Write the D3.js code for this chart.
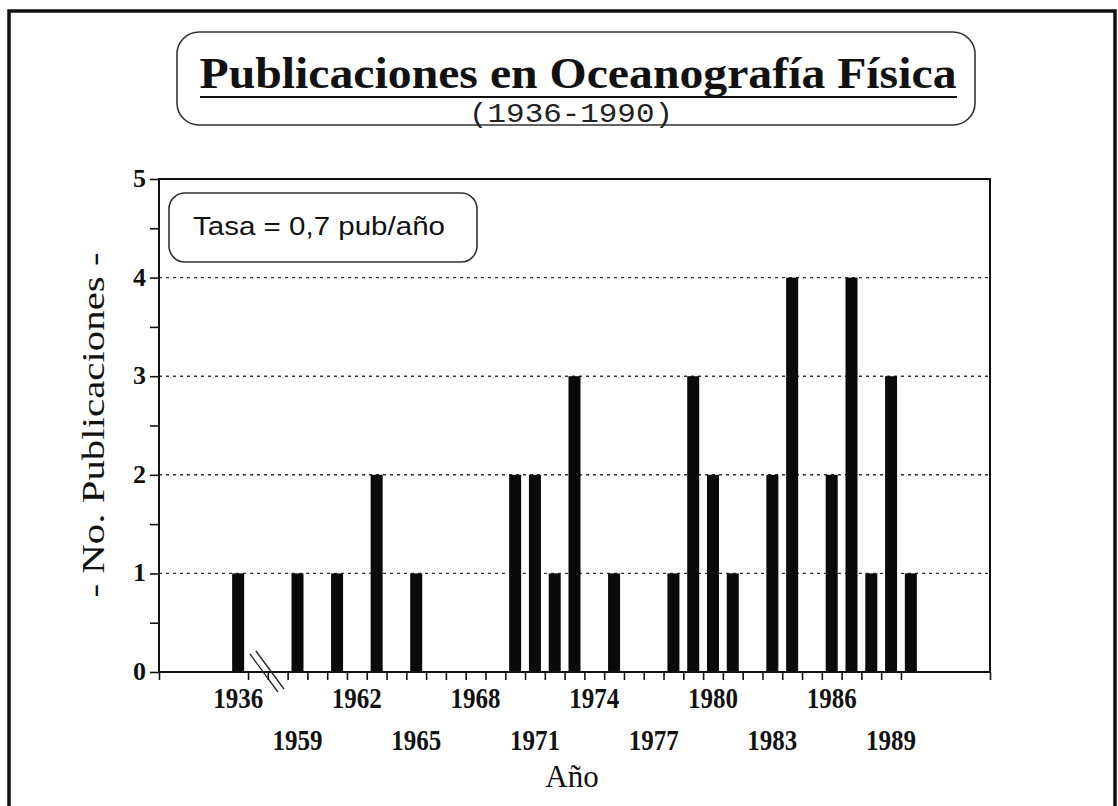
<!DOCTYPE html>
<html>
<head>
<meta charset="utf-8">
<script src="https://cdn.jsdelivr.net/npm/d3@7"></script>
<style>
  html, body { margin: 0; padding: 0; background: #fff; }
  svg { display: block; }
</style>
</head>
<body>
<div id="chart"></div>
<script>
// ---- data ----
const years  = [1936, 1959, 1961, 1963, 1965, 1970, 1971, 1972, 1973, 1975, 1978, 1979, 1980, 1981, 1983, 1984, 1986, 1987, 1988, 1989, 1990];
const counts = [1,    1,    1,    2,    1,    2,    2,    1,    3,    1,    1,    3,    2,    1,    2,    4,    2,    4,    1,    3,    1];
const tickLabelsRow1 = [1936, 1962, 1968, 1974, 1980, 1986];
const tickLabelsRow2 = [1959, 1965, 1971, 1977, 1983, 1989];
const yTicks = [0, 1, 2, 3, 4, 5];
const title = "Publicaciones en Oceanografía Física";
const subtitle = "(1936-1990)";
const rateLabel = "Tasa = 0,7 pub/año";
const yTitle = "- No. Publicaciones -";
const xTitle = "Año";

// axis break: 1936 sits alone, then two empty slots, then 1959 onward
const slot = y => (y === 1936 ? 0 : y - 1956);

const W = 1118, H = 806;
const svg = d3.select("#chart").append("svg").attr("width", W).attr("height", H);

const x = d3.scaleLinear().domain([-4, 38]).range([159, 990]);
const y = d3.scaleLinear().domain([0, 5]).range([672, 179]);
const serif = "'Liberation Serif', 'Times New Roman', serif";

// outer frame
svg.append("rect").attr("x", 9).attr("y", 11).attr("width", 1106).attr("height", 830)
  .attr("fill", "none").attr("stroke", "#111").attr("stroke-width", 3.5);

// title box
svg.append("rect").attr("x", 177).attr("y", 32).attr("width", 798).attr("height", 93)
  .attr("rx", 22).attr("ry", 22)
  .attr("fill", "none").attr("stroke", "#333").attr("stroke-width", 1.6);
svg.append("text").attr("x", 578).attr("y", 88).attr("text-anchor", "middle")
  .attr("font-family", serif).attr("font-weight", "bold").attr("font-size", 45)
  .attr("textLength", 757).attr("lengthAdjust", "spacingAndGlyphs")
  .attr("fill", "#111").text(title);
svg.append("line").attr("x1", 200).attr("x2", 957).attr("y1", 97).attr("y2", 97)
  .attr("stroke", "#111").attr("stroke-width", 2);
svg.append("text").attr("x", 571).attr("y", 122).attr("text-anchor", "middle")
  .attr("font-family", "'Liberation Mono', 'Courier New', monospace").attr("font-size", 27)
  .attr("textLength", 204).attr("lengthAdjust", "spacingAndGlyphs")
  .attr("fill", "#222").text(subtitle);

// gridlines
svg.append("g").selectAll("line").data(yTicks.filter(v => v > 0 && v < 5)).join("line")
  .attr("x1", x(-4)).attr("x2", x(38))
  .attr("y1", d => y(d)).attr("y2", d => y(d))
  .attr("stroke", "#333").attr("stroke-width", 1.4).attr("stroke-dasharray", "3,4");

// bars
const bw = 12;
svg.append("g").selectAll("rect").data(years.map((yr, i) => ({ yr, c: counts[i] }))).join("rect")
  .attr("x", d => x(slot(d.yr)) - bw / 2)
  .attr("width", bw)
  .attr("y", d => y(d.c))
  .attr("height", d => y(0) - y(d.c))
  .attr("fill", "#0a0a0a");

// plot frame
svg.append("rect").attr("x", x(-4)).attr("y", y(5))
  .attr("width", x(38) - x(-4)).attr("height", y(0) - y(5))
  .attr("fill", "none").attr("stroke", "#111").attr("stroke-width", 2);

// y axis with major & minor ticks
const yAxis = d3.axisLeft(y).tickValues(d3.range(0, 5.01, 0.5)).tickSize(9).tickFormat(() => "");
const gy = svg.append("g").attr("transform", `translate(${x(-4)},0)`).call(yAxis);
gy.select(".domain").remove();
gy.selectAll(".tick line").attr("stroke", "#111").attr("stroke-width", 1.6);
svg.append("g").selectAll("text").data(yTicks).join("text")
  .attr("x", 146).attr("y", d => y(d) + 8).attr("text-anchor", "end")
  .attr("font-family", serif).attr("font-weight", "bold").attr("font-size", 26)
  .attr("fill", "#111").text(d => d);

// x axis ticks (between slots) plus end ticks
const tickPos = d3.range(0.5, 34, 1).concat([-4, 38]);
const xAxis = d3.axisBottom(x).tickValues(tickPos).tickSize(8).tickFormat(() => "");
const gx = svg.append("g").attr("transform", `translate(0,${y(0)})`).call(xAxis);
gx.select(".domain").remove();
gx.selectAll(".tick line").attr("stroke", "#111").attr("stroke-width", 1.6);

// x tick labels, two staggered rows
const xl = svg.append("g").attr("font-family", serif).attr("font-weight", "bold")
  .attr("font-size", 30).attr("fill", "#111").attr("text-anchor", "middle");
xl.selectAll("text.r1").data(tickLabelsRow1).join("text").attr("class", "r1")
  .attr("x", d => x(slot(d))).attr("y", 708)
  .attr("textLength", 50).attr("lengthAdjust", "spacingAndGlyphs").text(d => d);
xl.selectAll("text.r2").data(tickLabelsRow2).join("text").attr("class", "r2")
  .attr("x", d => x(slot(d))).attr("y", 750)
  .attr("textLength", 50).attr("lengthAdjust", "spacingAndGlyphs").text(d => d);

// axis break marks
const brk = svg.append("g").attr("stroke", "#222").attr("stroke-width", 1.3);
[[0, 0], [6, -3]].forEach(([dx, dy]) => {
  brk.append("line")
    .attr("x1", x(1) - 8 + dx).attr("y1", y(0) - 18 + dy)
    .attr("x2", x(1) + 20 + dx).attr("y2", y(0) + 20 + dy);
});

// rate box
svg.append("rect").attr("x", 169).attr("y", 193).attr("width", 308).attr("height", 69)
  .attr("rx", 16).attr("ry", 16)
  .attr("fill", "#fff").attr("stroke", "#333").attr("stroke-width", 1.6);
svg.append("text").attr("x", 193).attr("y", 235)
  .attr("font-family", "'Liberation Sans', Arial, sans-serif").attr("font-size", 25)
  .attr("textLength", 252).attr("lengthAdjust", "spacingAndGlyphs")
  .attr("fill", "#111").text(rateLabel);

// axis titles
svg.append("text").attr("transform", "translate(104,425) rotate(-90)")
  .attr("text-anchor", "middle").attr("font-family", serif).attr("font-size", 31)
  .attr("textLength", 345).attr("lengthAdjust", "spacingAndGlyphs")
  .attr("fill", "#111").text(yTitle);
svg.append("text").attr("x", 572).attr("y", 787).attr("text-anchor", "middle")
  .attr("font-family", serif).attr("font-size", 31).attr("fill", "#111").text(xTitle);
</script>
</body>
</html>
